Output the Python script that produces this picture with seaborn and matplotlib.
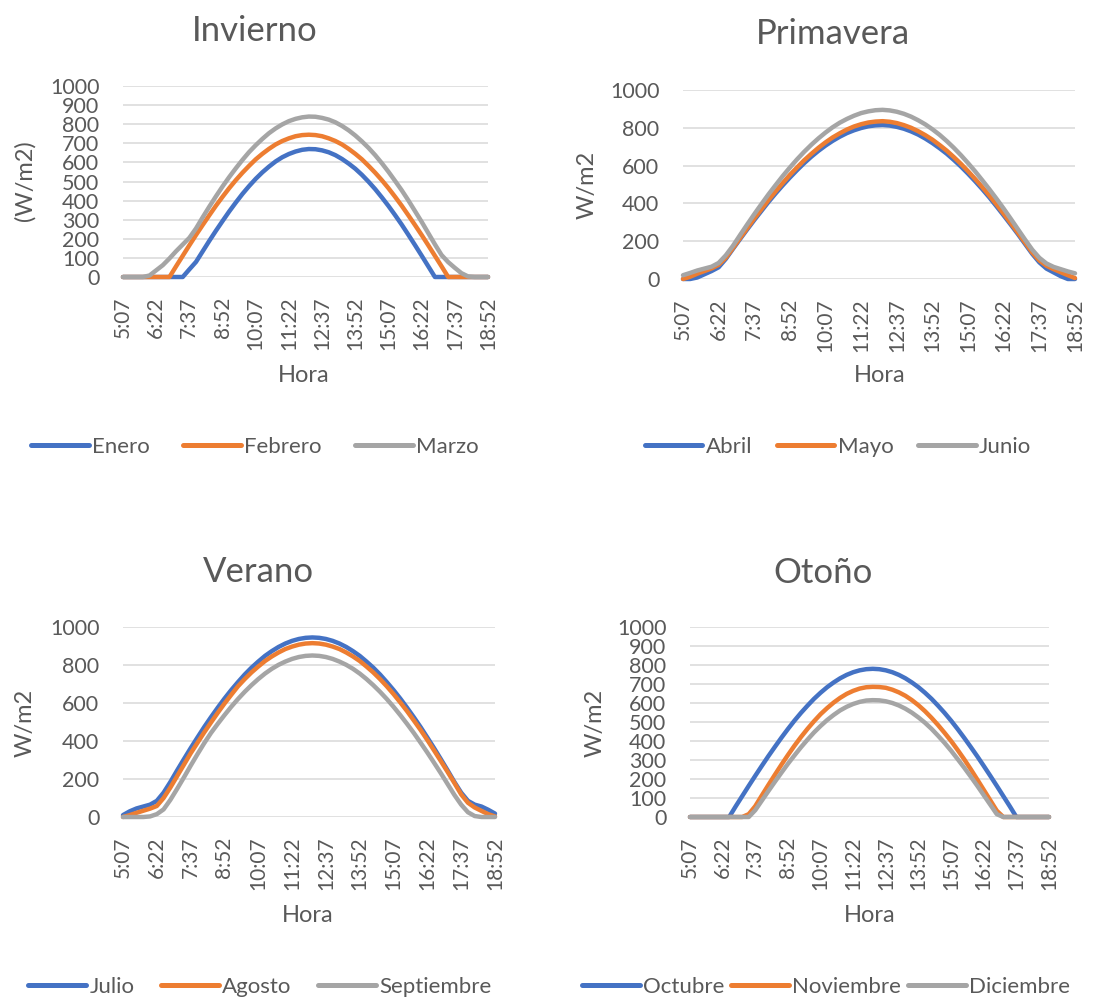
import matplotlib
matplotlib.use("Agg")
import matplotlib.pyplot as plt
import seaborn as sns
import pandas as pd

horas = ['5:07', '5:22', '5:37', '5:52', '6:07', '6:22', '6:37', '6:52', '7:07', '7:22',
         '7:37', '7:52', '8:07', '8:22', '8:37', '8:52', '9:07', '9:22', '9:37', '9:52',
         '10:07', '10:22', '10:37', '10:52', '11:07', '11:22', '11:37', '11:52', '12:07', '12:22',
         '12:37', '12:52', '13:07', '13:22', '13:37', '13:52', '14:07', '14:22', '14:37', '14:52',
         '15:07', '15:22', '15:37', '15:52', '16:07', '16:22', '16:37', '16:52', '17:07', '17:22',
         '17:37', '17:52', '18:07', '18:22', '18:37', '18:52']

# irradiancia (W/m2) cada 15 min
enero = [0, 0, 0, 0, 0, 0, 0, 0, 0, 0,
         40, 79, 134, 189, 242, 293, 343, 390, 435, 476,
         514, 548, 578, 605, 627, 644, 657, 666, 670, 669,
         663, 653, 638, 618, 594, 567, 535, 499, 460, 417,
         372, 324, 274, 221, 167, 112, 56, 0, 0, 0,
         0, 0, 0, 0, 0, 0]
febrero = [0, 0, 0, 0, 0, 0, 0, 0, 56, 111,
           166, 220, 272, 323, 373, 420, 465, 507, 546, 582,
           616, 645, 671, 694, 712, 726, 737, 743, 745, 743,
           737, 726, 712, 694, 671, 645, 616, 582, 546, 507,
           465, 420, 373, 323, 272, 220, 166, 111, 56, 0,
           0, 0, 0, 0, 0, 0]
marzo = [0, 0, 0, 0, 8, 35, 62, 97, 135, 170,
         205, 254, 312, 368, 422, 474, 523, 569, 613, 654,
         690, 723, 753, 778, 799, 816, 828, 836, 840, 839,
         833, 824, 810, 791, 768, 741, 710, 676, 638, 596,
         551, 503, 454, 401, 345, 289, 230, 171, 115, 78,
         48, 20, 3, 0, 0, 0]

abril = [0, 0, 8, 25, 42, 62, 106, 159, 211, 262,
         312, 360, 408, 453, 496, 537, 576, 613, 647, 678,
         706, 731, 753, 772, 787, 799, 808, 813, 815, 812,
         805, 795, 781, 764, 743, 719, 692, 663, 630, 595,
         557, 517, 475, 431, 384, 336, 287, 237, 185, 133,
         88, 55, 35, 15, 0, 0]
mayo = [0, 12, 28, 42, 56, 75, 112, 163, 216, 268,
        320, 369, 418, 464, 508, 551, 590, 628, 662, 694,
        723, 749, 771, 791, 807, 819, 828, 833, 835, 832,
        825, 814, 800, 782, 761, 737, 709, 679, 645, 609,
        570, 529, 486, 441, 394, 345, 295, 244, 192, 140,
        98, 70, 52, 36, 20, 5]
junio = [20, 32, 45, 55, 65, 85, 125, 175, 232, 288,
         343, 396, 448, 497, 545, 590, 633, 673, 710, 744,
         775, 803, 827, 847, 864, 878, 887, 893, 895, 892,
         885, 874, 859, 840, 818, 792, 763, 730, 694, 655,
         613, 569, 522, 474, 424, 372, 318, 263, 208, 155,
         112, 82, 64, 52, 40, 30]

julio = [10, 30, 45, 55, 65, 85, 128, 184, 245, 304,
         362, 418, 473, 525, 575, 623, 668, 710, 750, 786,
         818, 848, 873, 895, 913, 927, 937, 943, 945, 943,
         937, 927, 913, 895, 873, 848, 818, 786, 750, 710,
         668, 623, 575, 525, 473, 418, 362, 304, 245, 184,
         128, 85, 65, 55, 38, 18]
agosto = [0, 10, 22, 33, 44, 58, 100, 155, 215, 275,
          335, 390, 445, 497, 548, 597, 643, 688, 726, 761,
          792, 821, 845, 866, 884, 897, 907, 913, 915, 913,
          907, 897, 884, 866, 845, 821, 792, 761, 726, 688,
          647, 603, 557, 508, 458, 405, 350, 294, 237, 179,
          119, 75, 50, 32, 15, 3]
septiembre = [0, 0, 0, 0, 3, 15, 40, 90, 148, 208,
              270, 330, 388, 442, 490, 536, 580, 621, 659, 694,
              726, 755, 780, 801, 818, 832, 842, 848, 850, 848,
              842, 832, 818, 801, 780, 755, 726, 694, 659, 621,
              580, 536, 490, 442, 391, 339, 285, 230, 173, 116,
              65, 25, 5, 0, 0, 0]

octubre = [0, 0, 0, 0, 0, 0, 0, 56, 110, 164,
           217, 269, 320, 369, 417, 463, 507, 548, 586, 622,
           654, 683, 708, 730, 748, 762, 772, 778, 780, 778,
           772, 762, 748, 730, 708, 683, 654, 622, 586, 548,
           507, 463, 417, 369, 320, 269, 217, 164, 110, 56,
           0, 0, 0, 0, 0, 0]
noviembre = [0, 0, 0, 0, 0, 0, 0, 0, 0, 15,
             57, 113, 168, 222, 275, 326, 375, 421, 464, 504,
             541, 573, 602, 627, 648, 664, 676, 683, 685, 684,
             680, 670, 656, 638, 615, 588, 557, 522, 484, 443,
             400, 353, 304, 252, 198, 143, 88, 33, 0, 0,
             0, 0, 0, 0, 0, 0]
diciembre = [0, 0, 0, 0, 0, 0, 0, 0, 0, 0,
             36, 86, 136, 185, 233, 280, 324, 367, 407, 445,
             479, 510, 537, 561, 580, 595, 606, 613, 615, 614,
             609, 600, 587, 570, 549, 524, 496, 464, 428, 390,
             349, 305, 260, 213, 165, 115, 65, 15, 0, 0,
             0, 0, 0, 0, 0, 0]

colores = ['#4472C4', '#ED7D31', '#A5A5A5']
gris_texto = '#595959'

sns.set_theme(style="white")
plt.rcParams['font.family'] = ['Lato', 'DejaVu Sans']

W, H = 1105, 998
fig = plt.figure(figsize=(W / 100, H / 100), dpi=100)

def px_axes(x0, y0, x1, y1):
    return fig.add_axes([x0 / W, 1 - y1 / H, (x1 - x0) / W, (y1 - y0) / H])

# (titulo, meses, series, ylabel, paso y, caja del eje, pos titulo, pos ylabel, pos Hora, pos leyenda, espaciado)
paneles = [
    ("Invierno", ["Enero", "Febrero", "Marzo"], [enero, febrero, marzo], "(W/m2)", 100,
     (123, 86, 488, 277), (255, 31), (25, 181), (304, 376), (255, 447), 1.5),
    ("Primavera", ["Abril", "Mayo", "Junio"], [abril, mayo, junio], "W/m2", 200,
     (683, 90, 1075, 279), (833, 34), (587, 185), (880, 376), (838, 447), 1.1),
    ("Verano", ["Julio", "Agosto", "Septiembre"], [julio, agosto, septiembre], "W/m2", 200,
     (123, 627, 495, 817), (258, 572), (25, 723), (308, 915), (260, 987), 1.2),
    ("Otoño", ["Octubre", "Noviembre", "Diciembre"], [octubre, noviembre, diciembre], "W/m2", 100,
     (690, 627, 1049, 817), (823, 573), (595, 723), (870, 915), (826, 987), 0.3),
]

for titulo, meses, series, ylab, paso, caja, pt, py, ph, pl, esp in paneles:
    ax = px_axes(*caja)
    df = pd.concat([pd.DataFrame({"idx": range(len(horas)), "W": s, "mes": m})
                    for m, s in zip(meses, series)])
    sns.lineplot(data=df, x="idx", y="W", hue="mes", hue_order=meses,
                 palette=colores, linewidth=3.2, errorbar=None, ax=ax, legend=True)
    for ln in ax.lines:
        ln.set_clip_on(False)
        ln.set_solid_capstyle('round')
    handles, labels = ax.get_legend_handles_labels()
    ax.get_legend().remove()
    for h in handles:
        h.set_linewidth(3.6)

    ax.set_xlim(0, len(horas) - 1)
    ax.set_ylim(0, 1000)
    ax.set_yticks(range(0, 1001, paso))
    ax.set_xticks(range(0, len(horas), 5))
    ax.set_xticklabels(horas[::5], rotation=90)
    ax.grid(axis='y', color='#D9D9D9', linewidth=1.1)
    ax.grid(axis='x', visible=False)
    ax.set_axisbelow(True)
    for sp in ax.spines.values():
        sp.set_visible(False)
    ax.tick_params(axis='y', length=0, pad=17, labelsize=15.5, labelcolor=gris_texto)
    ax.tick_params(axis='x', length=0, pad=14, labelsize=15, labelcolor=gris_texto)
    ax.set_xlabel("")
    ax.set_ylabel("")

    fig.text(pt[0] / W, 1 - pt[1] / H, titulo, ha='center', va='center',
             fontsize=25, color=gris_texto)
    fig.text(py[0] / W, 1 - py[1] / H, ylab, ha='center', va='center',
             rotation=90, fontsize=17, color=gris_texto)
    fig.text(ph[0] / W, 1 - ph[1] / H, "Hora", ha='center', va='center',
             fontsize=17, color=gris_texto)
    fig.legend(handles, labels, loc='center', bbox_to_anchor=(pl[0] / W, 1 - pl[1] / H),
               ncol=3, frameon=False, fontsize=16, labelcolor=gris_texto,
               handlelength=2.6, handletextpad=0.15, columnspacing=esp)

fig.savefig("out.png", dpi=100, facecolor='white')
